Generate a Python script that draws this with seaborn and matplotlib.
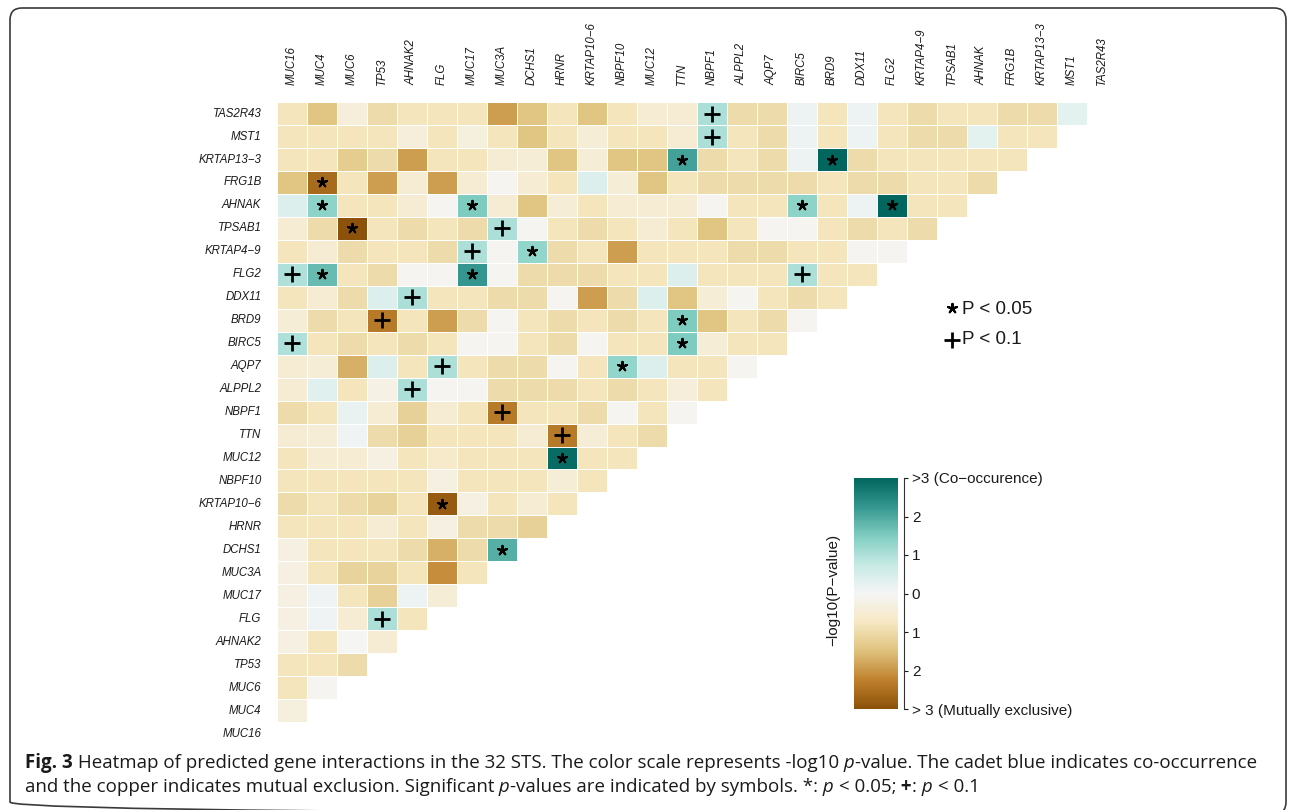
import numpy as np
import pandas as pd
import matplotlib
matplotlib.use("Agg")
import matplotlib.pyplot as plt
import seaborn as sns
from matplotlib.colors import LinearSegmentedColormap
from matplotlib.patches import FancyBboxPatch

# ---- genes (column order, left to right; rows use the reverse order) ----
genes = ["MUC16", "MUC4", "MUC6", "TP53", "AHNAK2", "FLG", "MUC17", "MUC3A",
         "DCHS1", "HRNR", "KRTAP10\u22126", "NBPF10", "MUC12", "TTN", "NBPF1",
         "ALPPL2", "AQP7", "BIRC5", "BRD9", "DDX11", "FLG2", "KRTAP4\u22129",
         "TPSAB1", "AHNAK", "FRG1B", "KRTAP13\u22123", "MST1", "TAS2R43"]

# ---- signed -log10(p): >0 co-occurrence, <0 mutual exclusivity ----
# one list per row gene, values against the genes listed before it
tas2r43 = [-0.8, -1.45, -0.4, -1.0, -0.8, -0.8, -0.8, -1.9, -1.45, -0.8, -1.45, -0.8, -0.5, -0.5,
           1.05, -1.0, -1.0, 0.15, -0.8, 0.15, -0.8, -1.0, -0.8, -0.8, -1.0, -1.0, 0.3]
mst1 = [-0.8, -0.8, -0.8, -0.8, -0.4, -0.8, -0.35, -0.8, -1.45, -0.8, -0.45, -0.8, -0.8, -0.5,
        1.05, -0.8, -1.0, 0.15, -0.8, 0.15, -0.8, -1.0, -1.0, 0.3, -0.8, -0.8]
krtap13_3 = [-0.8, -0.8, -1.3, -1.0, -1.9, -0.8, -0.8, -0.5, -0.45, -1.45, -0.45, -1.45, -1.45,
             2.1, -1.0, -0.8, -1.0, 0.15, 3.0, -1.0, -0.8, -0.8, -0.8, -0.8, -0.8]
frg1b = [-1.45, -2.6, -0.8, -1.9, -0.5, -1.9, -0.5, -0.08, -0.5, -0.8, 0.4, -0.45, -1.45, -0.8,
         -1.0, -1.0, -1.0, -1.0, -0.8, -1.0, -1.0, -0.8, -0.8, -1.0]
ahnak = [0.4, 1.35, -0.8, -0.8, -0.5, -0.05, 1.5, -0.5, -1.45, -0.45, -0.8, -0.5, -0.5, -0.5,
         -0.05, -0.8, -0.8, 1.35, -0.8, 0.15, 3.0, -0.8, -0.8]
tpsab1 = [-0.5, -1.0, -3.0, -0.8, -1.0, -0.8, -1.0, 1.05, -0.08, -0.8, -1.0, -0.8, -0.5, -0.8,
          -1.45, -0.8, -0.05, -0.05, -0.8, -1.0, -0.8, -1.0]
krtap4_9 = [-0.8, -0.5, -1.0, -0.8, -0.8, -1.0, 1.05, -0.08, 1.3, -1.0, -0.8, -1.9, -0.8, -0.8,
            -0.8, -1.0, -1.0, -0.8, -0.8, -0.05, -0.05]
flg2 = [1.0, 1.75, -0.8, -1.0, -0.08, -0.08, 2.25, -0.08, -1.0, -1.0, -1.0, -0.8, -0.8, 0.4,
        -0.8, -0.8, -0.8, 1.05, -0.8, -0.8]
ddx11 = [-0.8, -0.5, -1.0, 0.4, 1.05, -0.8, -0.8, -1.0, -1.0, -0.05, -1.9, -1.0, 0.4, -1.45,
         -0.45, -0.05, -0.8, -1.0, -0.8]
brd9 = [-0.45, -1.0, -0.8, -2.35, -0.8, -1.9, -1.0, -0.08, -0.8, -1.0, -0.8, -1.0, -0.8, 1.5,
        -1.45, -0.8, -1.0, -0.05]
birc5 = [1.0, -0.8, -1.0, -0.8, -1.0, -0.8, -0.08, -0.08, -0.8, -1.0, -0.05, -0.8, -0.8, 1.5,
         -0.45, -0.8, -0.8]
aqp7 = [-0.5, -0.45, -1.7, 0.4, -0.8, 1.05, -0.8, -1.0, -1.0, -0.05, -0.8, 1.3, 0.4, -0.8,
        -0.8, -0.05]
alppl2 = [-0.5, 0.35, -0.8, -0.25, 1.05, -0.08, -0.08, -1.0, -1.0, -1.0, -0.8, -1.0, -0.8, -0.4,
          -0.8]
nbpf1 = [-1.0, -0.8, 0.2, -0.5, -1.2, -0.5, -0.8, -2.35, -0.8, -0.8, -1.0, -0.05, -0.8, -0.05]
ttn = [-0.5, -0.45, 0.1, -1.0, -1.2, -0.8, -0.8, -0.8, -0.5, -2.35, -0.45, -0.8, -1.0]
muc12 = [-0.8, -0.5, -0.5, -0.3, -0.8, -0.65, -0.8, -0.8, -0.8, 2.9, -0.8, -0.8]
nbpf10 = [-0.8, -0.8, -0.8, -0.8, -0.8, -0.3, -0.8, -0.8, -0.8, -0.45, -0.8]
krtap10_6 = [-1.0, -0.8, -1.0, -1.15, -0.8, -2.85, -0.3, -0.8, -0.5, -0.8]
hrnr = [-0.8, -0.8, -0.8, -0.5, -0.8, -0.3, -1.0, -1.0, -1.2]
dchs1 = [-0.3, -0.8, -0.8, -0.8, -1.0, -1.7, -1.0, 1.9]
muc3a = [-0.3, -0.8, -1.15, -1.15, -0.8, -2.1, -0.8]
muc17 = [-0.3, 0.1, -0.8, -1.2, 0.15, -0.45]
flg = [-0.3, 0.1, -0.5, 1.05, -0.8]
ahnak2 = [-0.3, -0.8, -0.02, -0.5]
tp53 = [-0.8, -0.8, -1.0]
muc6 = [-0.8, -0.05]
muc4 = [-0.35]
muc16 = []

# significant pairs (row gene, column gene)
star_pairs = [("FRG1B", "MUC4"), ("AHNAK", "MUC4"), ("AHNAK", "MUC17"), ("AHNAK", "BIRC5"),
              ("AHNAK", "FLG2"), ("TPSAB1", "MUC6"), ("KRTAP4\u22129", "DCHS1"),
              ("FLG2", "MUC4"), ("FLG2", "MUC17"), ("KRTAP13\u22123", "TTN"),
              ("KRTAP13\u22123", "BRD9"), ("BRD9", "TTN"), ("BIRC5", "TTN"),
              ("AQP7", "NBPF10"), ("MUC12", "HRNR"), ("KRTAP10\u22126", "FLG"),
              ("DCHS1", "MUC3A")]
plus_pairs = [("TAS2R43", "NBPF1"), ("MST1", "NBPF1"), ("TPSAB1", "MUC3A"),
              ("KRTAP4\u22129", "MUC17"), ("FLG2", "MUC16"), ("FLG2", "BIRC5"),
              ("DDX11", "AHNAK2"), ("BRD9", "TP53"), ("BIRC5", "MUC16"), ("AQP7", "FLG"),
              ("ALPPL2", "AHNAK2"), ("NBPF1", "MUC3A"), ("TTN", "HRNR"), ("FLG", "TP53")]

cbar_ticks = [3, 2, 1, 0, -1, -2, -3]
cbar_labels = [">3 (Co\u2212occurence)", "2", "1", "0", "1", "2", "> 3 (Mutually exclusive)"]
brbg9 = ["#8C510A", "#BF812D", "#DFC27D", "#F6E8C3", "#F5F5F5",
         "#C7EAE5", "#80CDC1", "#35978F", "#01665E"]

# ---- assemble the lower-triangular matrix (rows top -> bottom) ----
row_lists = [tas2r43, mst1, krtap13_3, frg1b, ahnak, tpsab1, krtap4_9, flg2, ddx11, brd9,
             birc5, aqp7, alppl2, nbpf1, ttn, muc12, nbpf10, krtap10_6, hrnr, dchs1, muc3a,
             muc17, flg, ahnak2, tp53, muc6, muc4, muc16]
row_genes = genes[::-1]
n = len(genes)
mat = np.full((n, n), np.nan)
for i, vals in enumerate(row_lists):
    assert len(vals) == n - 1 - i
    mat[i, :len(vals)] = vals
df = pd.DataFrame(mat, index=row_genes, columns=genes)

# ---- figure ----
sns.set_theme(style="white")
plt.rcParams["font.family"] = ["Liberation Sans", "DejaVu Sans"]

W, H = 1292, 810
fig = plt.figure(figsize=(W / 100, H / 100), dpi=100)


def box(x0, y0, x1, y1):
    return [x0 / W, 1 - y1 / H, (x1 - x0) / W, (y1 - y0) / H]


ax = fig.add_axes(box(276.7, 102.1, 1116.7, 745.0))
ax.patch.set_visible(False)
cax = fig.add_axes(box(854, 478, 898, 709))

cmap = LinearSegmentedColormap.from_list("brbg9", brbg9)
sns.heatmap(df, ax=ax, cmap=cmap, vmin=-3, vmax=3, mask=df.isna(),
            linewidths=0.7, linecolor="white", cbar_ax=cax,
            xticklabels=True, yticklabels=True)

ax.xaxis.tick_top()
ax.set_xticklabels(genes, rotation=90, fontstyle="italic", fontsize=8.3, color="#1a1a1a")
ax.set_yticklabels(row_genes, rotation=0, fontstyle="italic", fontsize=8.3, color="#1a1a1a")
ax.tick_params(axis="both", length=0)
ax.tick_params(axis="x", pad=12)
ax.tick_params(axis="y", pad=11)
ax.set_xlabel("")
ax.set_ylabel("")

row_pos = {g: i for i, g in enumerate(row_genes)}
col_pos = {g: j for j, g in enumerate(genes)}
ax.scatter([col_pos[c] + 0.5 for r, c in star_pairs],
           [row_pos[r] + 0.5 for r, c in star_pairs],
           marker=(5, 2, 0), s=45, c="black", linewidths=1.5, zorder=3)
ax.scatter([col_pos[c] + 0.5 for r, c in plus_pairs],
           [row_pos[r] + 0.5 for r, c in plus_pairs],
           marker="+", s=140, c="black", linewidths=2.0, zorder=3)

# colour bar: no outline, separate axis line with ticks
cbar = ax.collections[0].colorbar
cbar.outline.set_visible(False)
cbar.set_ticks([])

tax = fig.add_axes(box(903, 478, 903.5, 709))
tax.set_ylim(-3, 3)
tax.set_xticks([])
tax.patch.set_visible(False)
for s in ["left", "top", "bottom"]:
    tax.spines[s].set_visible(False)
tax.spines["right"].set_color("#333333")
tax.spines["right"].set_linewidth(0.8)
tax.yaxis.tick_right()
tax.set_yticks(cbar_ticks)
tax.set_yticklabels(cbar_labels)
tax.tick_params(axis="y", length=3, width=0.8, pad=3, labelsize=11, colors="#1a1a1a")
fig.text(833 / W, 1 - 590 / H, "\u2212log10(P\u2212value)", rotation=90,
         ha="center", va="center", fontsize=11, color="#1a1a1a")

# ---- overlay in pixel units: legend, caption, frame ----
ov = fig.add_axes([0, 0, 1, 1], zorder=10)
ov.set_xlim(0, W)
ov.set_ylim(H, 0)
ov.axis("off")

ov.scatter([952], [308], marker=(5, 2, 0), s=45, c="black", linewidths=1.5)
ov.scatter([952], [340], marker="+", s=140, c="black", linewidths=2.0)
ov.text(962, 309, "P < 0.05", va="center", ha="left", fontsize=13.5, color="#1a1a1a")
ov.text(962, 340, "P < 0.1", va="center", ha="left", fontsize=13.5, color="#1a1a1a")

frame = FancyBboxPatch((10, 8), 1276, 806, boxstyle="round,pad=0,rounding_size=12",
                       fill=False, ec="#3a3a3a", lw=1.2, clip_on=False)
ov.add_patch(frame)

cap_font = "Open Sans"
line1 = [("Fig. 3", "bold", "normal"),
         (" Heatmap of predicted gene interactions in the 32 STS. The color scale represents -log10", "normal", "normal"),
         (" p", "normal", "italic"),
         ("-value. The cadet blue indicates co-occurrence", "normal", "normal")]
line2 = [("and the copper indicates mutual exclusion. Significant", "normal", "normal"),
         (" p", "normal", "italic"),
         ("-values are indicated by symbols. *:", "normal", "normal"),
         (" p", "normal", "italic"),
         (" < 0.05;", "normal", "normal"),
         (" +", "bold", "normal"),
         (":", "normal", "normal"),
         (" p", "normal", "italic"),
         (" < 0.1", "normal", "normal")]

renderer = fig.canvas.get_renderer()


def draw_runs(x, y, runs, size):
    for txt, weight, style in runs:
        t = ov.text(x, y, txt, fontsize=size, fontweight=weight, fontstyle=style,
                    family=cap_font, va="center", ha="left", color="#1a1a1a")
        x += t.get_window_extent(renderer).width
    return x


# size the caption so the first line spans the frame width
probe = draw_runs(0, -100, line1, 12)
for t in list(ov.texts)[-len(line1):]:
    t.remove()
cap_size = 12 * (1253 - 25) / probe
draw_runs(25, 763, line1, cap_size)
draw_runs(25, 787, line2, cap_size)

fig.savefig("out.png", dpi=100, facecolor="white")
